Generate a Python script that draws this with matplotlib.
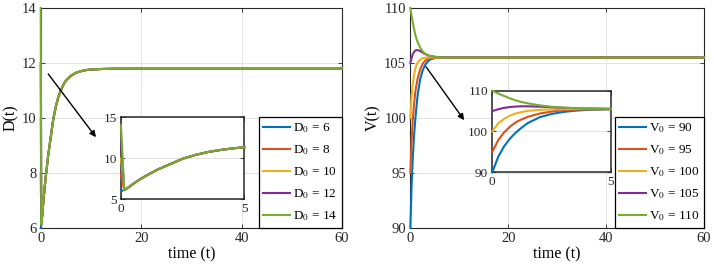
import numpy as np
import matplotlib
matplotlib.use('Agg')
import matplotlib.pyplot as plt

plt.rcParams['font.family'] = ['Liberation Serif', 'DejaVu Serif']
plt.rcParams['mathtext.fontset'] = 'stix'

# MATLAB default line colours
colors = ['#0072BD', '#D95319', '#EDB120', '#7E2F8E', '#77AC30']

# D(t): every run drops to ~6.1 right away, then follows the same rise
D0 = [6, 8, 10, 12, 14]
t_d = [0.13, 0.3, 0.55, 0.75, 1.0, 1.25, 1.5, 2.0, 2.5, 3.0, 3.5, 4.0, 4.5, 5.0,
       6.0, 7.0, 8.0, 9.0, 10.0, 12.0, 15.0, 20.0, 30.0, 60.0]
d_tail = [6.13, 6.45, 7.0, 7.4, 7.85, 8.25, 8.65, 9.3, 9.95, 10.4, 10.75, 11.0, 11.2, 11.35,
          11.53, 11.64, 11.7, 11.74, 11.76, 11.78, 11.79, 11.79, 11.79, 11.79]

# V(t)
V0 = [90, 95, 100, 105, 110]
t_v = [0, 0.25, 0.5, 0.75, 1.0, 1.25, 1.5, 2.0, 2.5, 3.0, 3.5, 4.0, 5.0, 6.0, 8.0, 10.0, 20.0, 60.0]
v90 = [90, 93.8, 96.4, 98.3, 99.8, 101.0, 102.1, 103.5, 104.3, 104.8, 105.1, 105.3, 105.45, 105.5, 105.5, 105.5, 105.5, 105.5]
v95 = [95, 97.9, 99.8, 101.2, 102.3, 103.0, 103.6, 104.4, 104.9, 105.2, 105.35, 105.42, 105.48, 105.5, 105.5, 105.5, 105.5, 105.5]
v100 = [100, 102.0, 103.1, 103.9, 104.45, 104.8, 105.05, 105.3, 105.42, 105.47, 105.5, 105.5, 105.5, 105.5, 105.5, 105.5, 105.5, 105.5]
v105 = [105, 105.45, 105.8, 106.0, 106.12, 106.17, 106.17, 106.08, 105.95, 105.82, 105.72, 105.64, 105.56, 105.52, 105.5, 105.5, 105.5, 105.5]
v110 = [110, 109.3, 108.7, 108.1, 107.6, 107.2, 106.9, 106.4, 106.05, 105.85, 105.72, 105.63, 105.56, 105.52, 105.5, 105.5, 105.5, 105.5]
v_runs = [v90, v95, v100, v105, v110]

fig = plt.figure(figsize=(7.14, 2.74), dpi=100)

def style(ax, fs):
    ax.tick_params(direction='in', length=3, width=0.6, top=True, right=True,
                   labelsize=fs, colors='#262626', pad=3)
    ax.grid(True, color='#e3e3e3', lw=0.7)
    ax.set_axisbelow(True)
    for s in ax.spines.values():
        s.set_color('#262626')
        s.set_linewidth(0.8)

def legend(ax, labels):
    lg = ax.legend(labels, loc='lower right', bbox_to_anchor=(1, 0), borderaxespad=0,
                   fontsize=9.5, fancybox=False, framealpha=1, edgecolor='k',
                   handlelength=2.0, handletextpad=0.25, labelspacing=0.62, borderpad=0.35)
    lg.get_frame().set_linewidth(0.9)
    lg.set_zorder(5)

# left panel
ax1 = fig.add_axes([0.057, 0.168, 0.422, 0.803])
t_full = np.array([0] + t_d)
for d0, c in zip(D0, colors):
    ax1.plot(t_full, [d0] + d_tail, color=c, lw=1.5, zorder=3, clip_on=False)
ax1.set_xlim(0, 60)
ax1.set_ylim(6, 14)
ax1.set_xticks([0, 20, 40, 60])
ax1.set_yticks([6, 8, 10, 12, 14])
ax1.set_xlabel('time (t)', fontsize=11.5, labelpad=1)
ax1.set_ylabel('D(t)', fontsize=11.5, labelpad=2)
style(ax1, 10.5)
legend(ax1, ['D$_0$ = %d' % d for d in D0])
ax1.annotate('', xy=(11.0, 9.3), xytext=(1.5, 11.6),
             arrowprops=dict(arrowstyle='-|>', color='k', lw=1, mutation_scale=9,
                             shrinkA=0, shrinkB=0))

in1 = fig.add_axes([0.1695, 0.2726, 0.1727, 0.2993])
k = t_full <= 5
for d0, c in zip(D0, colors):
    in1.plot(t_full[k], np.array([d0] + d_tail)[k], color=c, lw=1.5, zorder=3, clip_on=False)
in1.set_xlim(0, 5)
in1.set_ylim(5, 15)
in1.set_xticks([0, 5])
in1.set_yticks([5, 10, 15])
style(in1, 9.5)
for s in in1.spines.values():
    s.set_linewidth(1.1)

# right panel
ax2 = fig.add_axes([0.5747, 0.168, 0.4113, 0.803])
for v, c in zip(v_runs, colors):
    ax2.plot(t_v, v, color=c, lw=1.5, zorder=3, clip_on=False)
ax2.set_xlim(0, 60)
ax2.set_ylim(90, 110)
ax2.set_xticks([0, 20, 40, 60])
ax2.set_yticks([90, 95, 100, 105, 110])
ax2.set_xlabel('time (t)', fontsize=11.5, labelpad=1)
ax2.set_ylabel('V(t)', fontsize=11.5, labelpad=2)
style(ax2, 10.5)
legend(ax2, ['V$_0$ = %d' % v for v in V0])
ax2.annotate('', xy=(11.0, 99.8), xytext=(3.2, 104.66),
             arrowprops=dict(arrowstyle='-|>', color='k', lw=1, mutation_scale=9,
                             shrinkA=0, shrinkB=0))

in2 = fig.add_axes([0.6895, 0.3712, 0.1662, 0.2978])
tv = np.array(t_v)
k = tv <= 5
for v, c in zip(v_runs, colors):
    in2.plot(tv[k], np.array(v)[k], color=c, lw=1.5, zorder=3, clip_on=False)
in2.set_xlim(0, 5)
in2.set_ylim(90, 110)
in2.set_xticks([0, 5])
in2.set_yticks([90, 100, 110])
style(in2, 9.5)
for s in in2.spines.values():
    s.set_linewidth(1.1)

fig.savefig('out.png', dpi=100)
